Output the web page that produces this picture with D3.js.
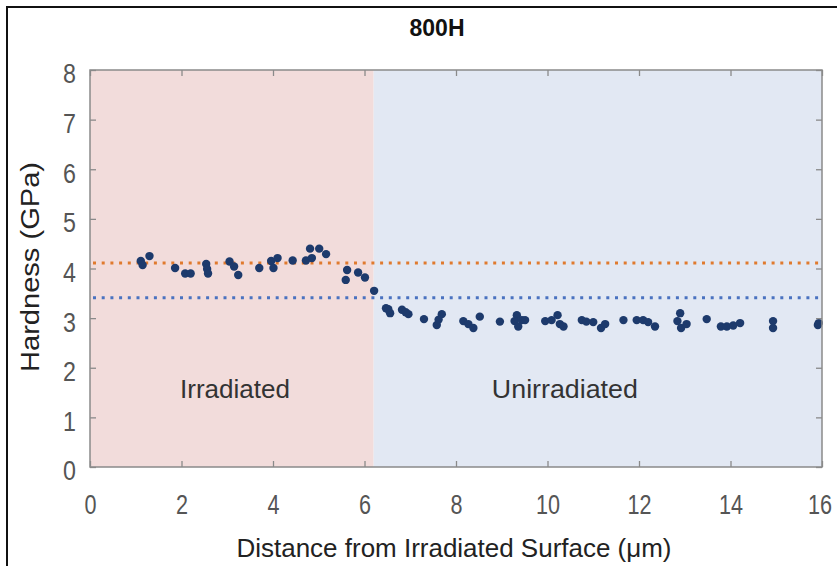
<!DOCTYPE html>
<html><head><meta charset="utf-8">
<script src="https://cdn.jsdelivr.net/npm/d3@7"></script>
<style>body{margin:0;background:#fff;} svg{display:block;}</style>
</head><body>
<script>
const title = "800H";
const xLabel = "Distance from Irradiated Surface (\u03bcm)";
const yLabel = "Hardness (GPa)";
const xTicks = [0,2,4,6,8,10,12,14,16];
const yTicks = [0,1,2,3,4,5,6,7,8];
const regionNames = ["Irradiated","Unirradiated"];
const regionBounds = [[0,6.2],[6.2,16]];
const regionLabelX = [3.17, 10.38];
const regionLabelY = 1.4;
const avgNames = ["irradiated average","unirradiated average"];
const avgValues = [4.11, 3.41];
const distance = [1.11,1.15,1.30,1.86,2.08,2.20,2.54,2.56,2.58,3.05,3.15,3.24,3.70,3.96,4.01,4.10,4.43,4.72,4.85,4.81,5.01,5.16,5.62,5.59,5.86,6.01,6.21,
  6.47,6.56,6.52,6.82,6.96,6.90,7.30,7.69,7.58,7.62,8.16,8.27,8.38,8.52,8.96,9.33,9.28,9.44,9.36,9.51,
  9.95,10.09,10.22,10.27,10.35,10.75,10.85,11.00,11.17,11.26,11.66,11.95,12.09,12.20,12.35,
  12.90,12.84,12.92,13.04,13.48,13.79,13.92,14.06,14.21,14.93,14.93,15.91,15.93];
const hardness = [4.15,4.07,4.25,4.01,3.90,3.90,4.09,3.99,3.90,4.14,4.04,3.87,4.01,4.15,4.01,4.21,4.16,4.16,4.21,4.40,4.40,4.29,3.97,3.77,3.92,3.82,3.55,
  3.20,3.10,3.18,3.17,3.08,3.12,2.98,3.08,2.86,2.97,2.94,2.88,2.80,3.03,2.93,3.06,2.94,2.96,2.83,2.96,
  2.94,2.96,3.06,2.88,2.83,2.96,2.93,2.92,2.80,2.88,2.96,2.96,2.96,2.92,2.83,
  3.10,2.94,2.80,2.88,2.98,2.83,2.83,2.85,2.90,2.94,2.80,2.86,2.90];

const W = 837, H = 566;
const m = {left: 90, right: 15, top: 70, bottom: 99};
const svg = d3.select("body").append("svg").attr("width", W).attr("height", H);
const x = d3.scaleLinear().domain([0,16]).range([m.left, W - m.right]);
const y = d3.scaleLinear().domain([0,8]).range([H - m.bottom, m.top]);
const font = "'Liberation Sans', Arial, sans-serif";

function condense(sel, f){
  sel.each(function(){
    const L = this.getComputedTextLength();
    d3.select(this).attr("textLength", L*f).attr("lengthAdjust","spacingAndGlyphs");
  });
}
function fitTo(sel, w){
  sel.attr("textLength", w).attr("lengthAdjust","spacingAndGlyphs");
}

// outer frame
svg.append("path").attr("d", `M7,${H} L7,7 L${W},7`).attr("fill","none").attr("stroke","#111").attr("stroke-width",2);

// regions
const regionFill = ["#f2dcdb","#e2e8f3"];
svg.selectAll("rect.reg").data(regionBounds).join("rect").attr("class","reg")
  .attr("x", d => x(d[0])).attr("width", d => x(d[1]) - x(d[0]))
  .attr("y", y(8)).attr("height", y(0) - y(8))
  .attr("fill", (d,i) => regionFill[i]);

// region labels
const regionLabelW = [110, 146];
svg.selectAll("text.reglab").data(regionNames).join("text").attr("class","reglab")
  .attr("x", (d,i) => x(regionLabelX[i]))
  .attr("y", y(regionLabelY)).attr("text-anchor","middle")
  .attr("font-family", font).attr("font-size", 25).attr("fill","#333")
  .text(d => d)
  .attr("textLength", (d,i) => regionLabelW[i]).attr("lengthAdjust","spacingAndGlyphs");

// average lines
const avgColor = ["#e07a2e","#4a72c0"];
svg.selectAll("line.avg").data(avgValues).join("line").attr("class","avg")
  .attr("x1", x(0)+3).attr("x2", x(16)).attr("y1", d => y(d)).attr("y2", d => y(d))
  .attr("stroke", (d,i) => avgColor[i]).attr("stroke-width", 3).attr("stroke-dasharray","3,5.7");

// points
svg.selectAll("circle.pt").data(distance).join("circle").attr("class","pt")
  .attr("cx", d => x(d)).attr("cy", (d,i) => y(hardness[i])).attr("r", 4.2)
  .attr("fill", "#1d3a6c");

// axes with inward ticks on all sides
const frameColor = "#8a8a8a";
function styleAxis(g){
  g.select(".domain").remove();
  g.selectAll(".tick line").attr("stroke", frameColor).attr("stroke-width",1.3);
  g.selectAll("text").attr("font-family", font).attr("font-size", 27).attr("fill","#555");
}
svg.append("g").attr("transform", `translate(0,${y(0)})`)
  .call(d3.axisBottom(x).tickValues(xTicks).tickSize(-6))
  .call(styleAxis)
  .call(g => g.selectAll("text").attr("y", 47).attr("dy", 0).call(condense, 0.8))
  .call(g => g.selectAll("text").filter(d => d === 16).attr("font-size", 24).attr("x", -2.5)
      .attr("transform", "scale(1,1.125)").attr("y", 47/1.125));
svg.append("g").attr("transform", `translate(0,${y(8)})`)
  .call(d3.axisTop(x).tickValues(xTicks).tickSize(-6).tickFormat(""))
  .call(styleAxis);
svg.append("g").attr("transform", `translate(${x(0)},0)`)
  .call(d3.axisLeft(y).tickValues(yTicks).tickSize(-6))
  .call(styleAxis)
  .call(g => g.selectAll("text").attr("x", -14).attr("dy", "0.48em").call(condense, 0.86));
svg.append("g").attr("transform", `translate(${x(16)},0)`)
  .call(d3.axisRight(y).tickValues(yTicks).tickSize(-6).tickFormat(""))
  .call(styleAxis);

// frame
svg.append("rect").attr("x", x(0)).attr("y", y(8)).attr("width", x(16)-x(0)).attr("height", y(0)-y(8))
  .attr("fill","none").attr("stroke", frameColor).attr("stroke-width",1.5);

// titles
svg.append("text").attr("x", 437).attr("y", 36).attr("text-anchor","middle")
  .attr("font-family", font).attr("font-weight","bold").attr("font-size", 23).attr("fill","#111").text(title)
  .call(fitTo, 55);
svg.append("text").attr("x", 454).attr("y", 557).attr("text-anchor","middle")
  .attr("font-family", font).attr("font-size", 26).attr("fill","#222").text(xLabel)
  .call(fitTo, 435);
svg.append("text").attr("transform", `translate(39,267) rotate(-90)`).attr("text-anchor","middle")
  .attr("font-family", font).attr("font-size", 26).attr("fill","#222").text(yLabel)
  .call(fitTo, 210);
</script>
</body></html>
